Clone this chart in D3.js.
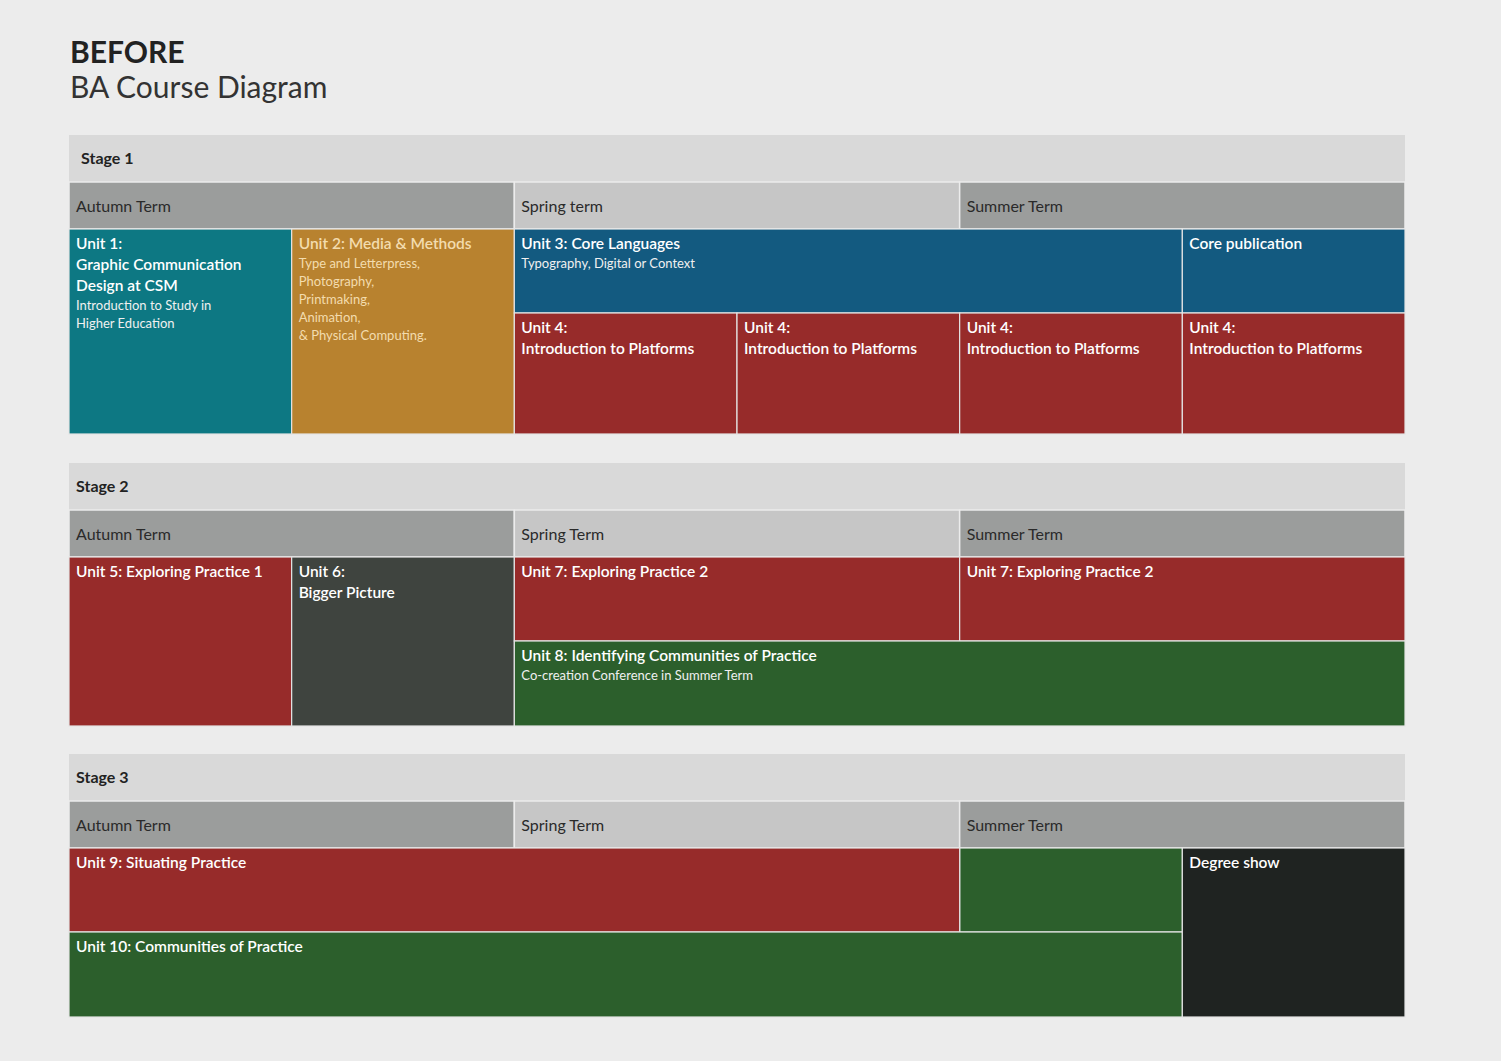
<!DOCTYPE html>
<html><head><meta charset="utf-8">
<script src="https://cdn.jsdelivr.net/npm/d3@7"></script>
<style>body{margin:0;background:#ececec;font-family:Lato,"Open Sans",sans-serif}</style>
</head><body><svg id="c" width="1501" height="1061"></svg>
<script>
const stages = ["Stage 1","Stage 2","Stage 3"];
const terms = [["Autumn Term","Spring term","Summer Term"],["Autumn Term","Spring Term","Summer Term"],["Autumn Term","Spring Term","Summer Term"]];
// blocks: stage, colStart, colEnd (of 6), rowStart, rowEnd (of 2), title lines, sub lines, colour key
const blocks = [
 [0,0,1,0,2,["Unit 1:","Graphic Communication","Design at CSM"],["Introduction to Study in","Higher Education"],"teal"],
 [0,1,2,0,2,["Unit 2: Media & Methods"],["Type and Letterpress,","Photography,","Printmaking,","Animation,","& Physical Computing."],"ochre"],
 [0,2,5,0,1,["Unit 3: Core Languages"],["Typography, Digital or Context"],"blue"],
 [0,5,6,0,1,["Core publication"],[],"blue"],
 [0,2,3,1,2,["Unit 4:","Introduction to Platforms"],[],"red"],
 [0,3,4,1,2,["Unit 4:","Introduction to Platforms"],[],"red"],
 [0,4,5,1,2,["Unit 4:","Introduction to Platforms"],[],"red"],
 [0,5,6,1,2,["Unit 4:","Introduction to Platforms"],[],"red"],
 [1,0,1,0,2,["Unit 5: Exploring Practice 1"],[],"red"],
 [1,1,2,0,2,["Unit 6:","Bigger Picture"],[],"gray"],
 [1,2,4,0,1,["Unit 7: Exploring Practice 2"],[],"red"],
 [1,4,6,0,1,["Unit 7: Exploring Practice 2"],[],"red"],
 [1,2,6,1,2,["Unit 8: Identifying Communities of Practice"],["Co-creation Conference in Summer Term"],"green"],
 [2,4,5,0,1,[],[],"green"],
 [2,0,4,0,1,["Unit 9: Situating Practice"],[],"red"],
 [2,0,5,1,2,["Unit 10: Communities of Practice"],[],"green"],
 [2,5,6,0,2,["Degree show"],[],"black"]
];
const colours = {teal:"#0d7883",ochre:"#b8822f",blue:"#135a80",red:"#972b2a",gray:"#3f443f",green:"#2c5f2c",black:"#1f2321"};
const titleCol = {ochre:"#f3dcae"};

const svg = d3.select("#c");
svg.append("text").attr("x",70).attr("y",63).attr("font-size",30).attr("font-weight",700).attr("fill","#222").text("BEFORE");
svg.append("text").attr("x",70).attr("y",98).attr("font-size",30).attr("fill","#333").text("BA Course Diagram");

const x = d3.scaleLinear().domain([0,6]).range([69,1405]);
const stageTop = d3.scaleOrdinal().domain([0,1,2]).range([135,463,754]);
const unitH = [205,169,169];
stages.forEach((s,i)=>{
  const t = stageTop(i);
  svg.append("rect").attr("x",x(0)).attr("y",t).attr("width",x(6)-x(0)).attr("height",47).attr("fill","#d9d9d9");
  svg.append("text").attr("x",i==0?81:76).attr("y",t+29).attr("font-size",16).attr("font-weight",700).attr("fill","#222").text(s);
  terms[i].forEach((tm,j)=>{
    svg.append("rect").attr("x",x(j*2)).attr("y",t+47).attr("width",x(2)-x(0)).attr("height",47)
      .attr("fill",j==1?"#c6c6c6":"#9b9d9c").attr("stroke","#ececec").attr("stroke-width",1.5);
    svg.append("text").attr("x",x(j*2)+7).attr("y",t+77).attr("font-size",16).attr("fill","#2a2a2a").text(tm);
  });
});
blocks.forEach(b=>{
  const [st,c0,c1,r0,r1,title,sub,ck]=b;
  const top = stageTop(st)+94;
  const y = d3.scaleLinear().domain([0,1,2]).range(st==0?[top,top+84,top+205]:[top,top+84,top+169]);
  svg.append("rect").attr("x",x(c0)).attr("y",y(r0)).attr("width",x(c1)-x(c0)).attr("height",y(r1)-y(r0))
    .attr("fill",colours[ck]).attr("stroke","#e4e4e4").attr("stroke-width",1.2);
  let ty = y(r0)+20;
  title.forEach(l=>{svg.append("text").attr("x",x(c0)+7).attr("y",ty).attr("font-size",15.5).attr("font-weight",600)
     .attr("fill",titleCol[ck]||"#fff").text(l); ty+=21;});
  ty -= 2;
  sub.forEach(l=>{svg.append("text").attr("x",x(c0)+7).attr("y",ty).attr("font-size",13).attr("fill",titleCol[ck]||"#f0f0f0").text(l); ty+=18;});
});
</script></body></html>
